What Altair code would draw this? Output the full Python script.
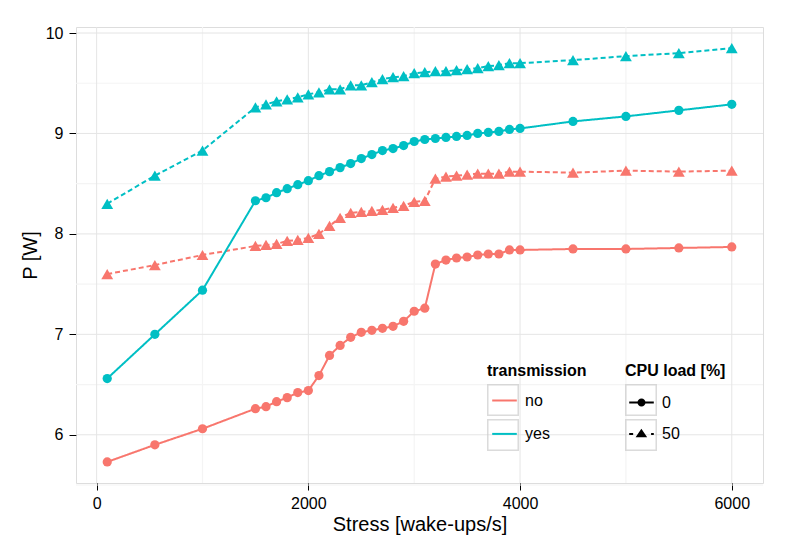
import altair as alt
import pandas as pd

stress = [100, 550, 1000, 1500, 1600, 1700, 1800, 1900, 2000, 2100, 2200, 2300,
          2400, 2500, 2600, 2700, 2800, 2900, 3000, 3100, 3200, 3300, 3400, 3500,
          3600, 3700, 3800, 3900, 4000, 4500, 5000, 5500, 6000]

p_no_0 = [5.73, 5.90, 6.06, 6.26, 6.28, 6.33, 6.37, 6.42, 6.44, 6.59, 6.79, 6.89,
          6.97, 7.02, 7.04, 7.06, 7.08, 7.13, 7.23, 7.26, 7.70, 7.74, 7.76, 7.77,
          7.79, 7.80, 7.80, 7.84, 7.84, 7.85, 7.85, 7.86, 7.87]
p_no_50 = [7.60, 7.69, 7.79, 7.88, 7.89, 7.90, 7.93, 7.94, 7.96, 8.00, 8.08, 8.16,
           8.21, 8.22, 8.23, 8.24, 8.26, 8.28, 8.32, 8.33, 8.55, 8.57, 8.58, 8.59,
           8.60, 8.60, 8.60, 8.62, 8.62, 8.61, 8.63, 8.62, 8.63]
p_yes_0 = [6.56, 7.00, 7.44, 8.33, 8.36, 8.41, 8.45, 8.49, 8.53, 8.58, 8.62, 8.66,
           8.70, 8.75, 8.79, 8.83, 8.85, 8.88, 8.92, 8.94, 8.95, 8.96, 8.97, 8.98,
           9.00, 9.01, 9.02, 9.04, 9.05, 9.12, 9.17, 9.23, 9.29]
p_yes_50 = [8.30, 8.58, 8.83, 9.26, 9.29, 9.32, 9.34, 9.36, 9.39, 9.41, 9.44, 9.44,
            9.48, 9.48, 9.51, 9.54, 9.56, 9.57, 9.60, 9.61, 9.62, 9.62, 9.63, 9.64,
            9.65, 9.67, 9.68, 9.70, 9.70, 9.73, 9.77, 9.80, 9.85]

transmission_levels = ["no", "yes"]
cpu_levels = ["0", "50"]
series_colors = ["#F8766D", "#00BFC4"]

x_ticks = [0, 2000, 4000, 6000]
x_minor = [1000, 3000, 5000]
y_ticks = [6, 7, 8, 9, 10]
y_minor = [5.5, 6.5, 7.5, 8.5, 9.5]

rows = []
for trans, cpu, vals in [("no", "0", p_no_0), ("no", "50", p_no_50),
                         ("yes", "0", p_yes_0), ("yes", "50", p_yes_50)]:
    for s, v in zip(stress, vals):
        rows.append({"stress": s, "P": v, "transmission": trans, "cpu": cpu})
df = pd.DataFrame(rows)

FONT = "Liberation Sans"
xscale = alt.Scale(domain=[-195, 6295], nice=False, zero=False)
yscale = alt.Scale(domain=[5.52, 10.06], nice=False, zero=False)

x_enc = alt.X("stress:Q", scale=xscale,
              axis=alt.Axis(values=x_ticks, title="Stress [wake-ups/s]", grid=False,
                            domain=False, tickColor="black", tickSize=7, labelPadding=5,
                            labelFontSize=16, titleFontSize=20, titleFontWeight="normal",
                            labelColor="black", titleColor="black", labelFont=FONT,
                            titleFont=FONT, titlePadding=3, format="d"))
y_enc = alt.Y("P:Q", scale=yscale,
              axis=alt.Axis(values=y_ticks, title="P [W]", grid=False, domain=False,
                            tickColor="black", tickSize=7, labelPadding=6,
                            labelFontSize=16, titleFontSize=20, titleFontWeight="normal",
                            labelColor="black", titleColor="black", labelFont=FONT,
                            titleFont=FONT, titlePadding=5, format="d"))

color_scale = alt.Scale(domain=transmission_levels, range=series_colors)

minor_x = alt.Chart(pd.DataFrame({"v": x_minor})).mark_rule(
    color="#F4F4F4", strokeWidth=1.2).encode(x=alt.X("v:Q", scale=xscale))
minor_y = alt.Chart(pd.DataFrame({"v": y_minor})).mark_rule(
    color="#F4F4F4", strokeWidth=1.2).encode(y=alt.Y("v:Q", scale=yscale))
major_x = alt.Chart(pd.DataFrame({"v": x_ticks})).mark_rule(
    color="#E5E5E5", strokeWidth=1).encode(x=alt.X("v:Q", scale=xscale))
major_y = alt.Chart(pd.DataFrame({"v": y_ticks})).mark_rule(
    color="#E5E5E5", strokeWidth=1).encode(y=alt.Y("v:Q", scale=yscale))

lines = alt.Chart(df).mark_line(strokeWidth=2).encode(
    x=x_enc, y=y_enc,
    color=alt.Color("transmission:N", scale=color_scale, legend=None),
    strokeDash=alt.StrokeDash("cpu:N", scale=alt.Scale(domain=cpu_levels,
                                                       range=[[1, 0], [5, 3]]),
                              legend=None),
    detail="cpu:N",
)

points = alt.Chart(df).mark_point(filled=True, opacity=1).encode(
    x=x_enc, y=y_enc,
    color=alt.Color("transmission:N", scale=color_scale, legend=None),
    shape=alt.Shape("cpu:N", scale=alt.Scale(domain=cpu_levels,
                                             range=["circle", "triangle-up"]),
                    legend=None),
    size=alt.Size("cpu:N", scale=alt.Scale(domain=cpu_levels, range=[85, 140]),
                  legend=None),
)

LEG_Y = 336
BOX_Y = 357
TRANS_X = 411
CPU_X = 549
common = dict(orient="none", padding=0, titleFontSize=16, titleFont=FONT,
              titleFontWeight="bold", labelFontSize=16, labelFont=FONT)

# key boxes (grey frames) behind the legend entries
box_trans = alt.Chart(df).transform_filter("datum.stress < 0").mark_point(
    filled=False, shape="square").encode(
    x=x_enc, y=y_enc,
    stroke=alt.Stroke("transmission:N",
                      scale=alt.Scale(domain=transmission_levels,
                                      range=["#CCCCCC", "#CCCCCC"]),
                      legend=alt.Legend(title=None, legendX=TRANS_X,
                                        legendY=BOX_Y, symbolType="square",
                                        symbolSize=930, symbolStrokeWidth=1.5,
                                        symbolOffset=0, labelExpr="''",
                                        rowPadding=-3.5, **common)),
)
box_cpu = alt.Chart(df).transform_filter("datum.stress < 0").mark_point(
    filled=False, shape="square").encode(
    x=x_enc, y=y_enc,
    stroke=alt.Stroke("cpu:N",
                      scale=alt.Scale(domain=cpu_levels, range=["#CCCCCC", "#CCCCCC"]),
                      legend=alt.Legend(title=None, legendX=CPU_X,
                                        legendY=BOX_Y, symbolType="square",
                                        symbolSize=930, symbolStrokeWidth=1.5,
                                        symbolOffset=0, labelExpr="''",
                                        rowPadding=-3.5, **common)),
)

legend_trans = alt.Chart(df).transform_filter("datum.stress < 0").mark_line(
    strokeWidth=2).encode(
    x=x_enc, y=y_enc,
    color=alt.Color("transmission:N", scale=color_scale,
                    legend=alt.Legend(title="transmission", legendX=TRANS_X,
                                      legendY=LEG_Y, symbolType="stroke",
                                      symbolSize=605, symbolStrokeWidth=2,
                                      symbolOffset=4, labelOffset=7,
                                      titleColor="black", labelColor="black",
                                      titlePadding=8, rowPadding=11.4, **common)),
)

path0 = ("M-1,-0.08H-0.3V0.08H-1Z M0.3,-0.08H1V0.08H0.3Z "
         "M-0.33,0A0.33,0.33,0,1,1,0.33,0A0.33,0.33,0.0,1,1,-0.33,0Z")
path50 = ("M-1,-0.08H-0.68V0.08H-1Z M0.78,-0.08H1V0.08H0.78Z "
          "M-0.01,-0.42L0.46,0.28L-0.48,0.28Z")

legend_cpu = alt.Chart(df).transform_filter("datum.stress < 0").mark_point(
    filled=True, color="black", opacity=1).encode(
    x=x_enc, y=y_enc,
    shape=alt.Shape("cpu:N", scale=alt.Scale(domain=cpu_levels, range=[path0, path50]),
                    legend=alt.Legend(title="CPU load [%]", legendX=CPU_X,
                                      legendY=LEG_Y, symbolSize=605,
                                      symbolFillColor="black", symbolStrokeWidth=0,
                                      symbolOpacity=1, symbolOffset=4, labelOffset=8,
                                      titleColor="black", labelColor="black",
                                      titlePadding=11, rowPadding=10.4, **common)),
)

chart = alt.layer(
    minor_x, minor_y, major_x, major_y, lines, points,
    box_trans, box_cpu, legend_trans, legend_cpu
).resolve_scale(
    color="independent", shape="independent", strokeDash="independent",
    size="independent", stroke="independent"
).properties(
    width=687, height=456,
    autosize=alt.AutoSizeParams(type="none"),
    padding={"left": 68, "top": 19, "right": 10, "bottom": 60},
).configure_view(
    stroke="#7F7F7F", strokeWidth=1.2
).configure(
    background="white"
)

chart.save("out.html", embed_options={"renderer": "svg", "actions": False})
